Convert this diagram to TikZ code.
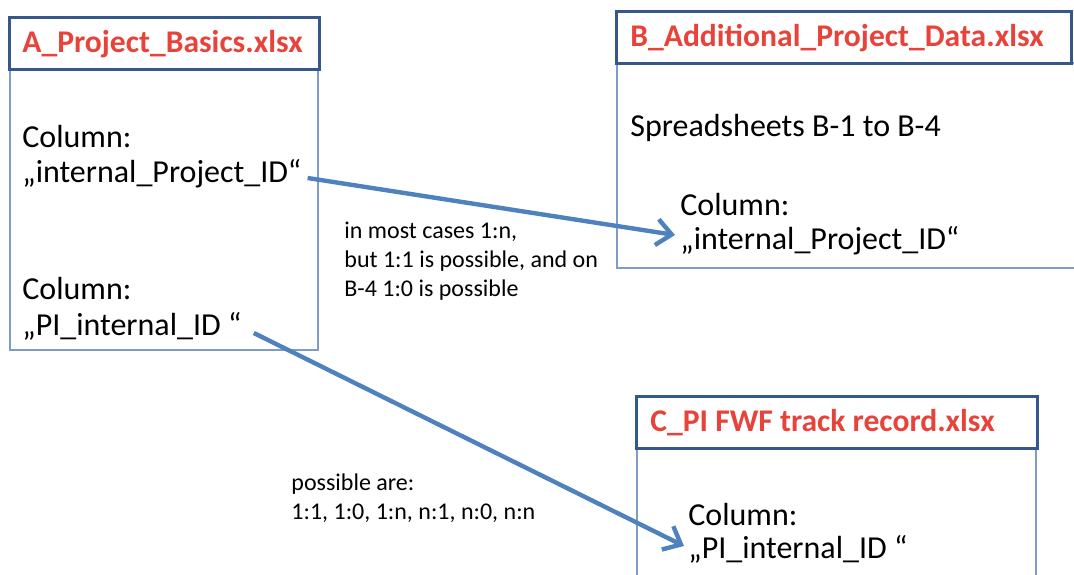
\documentclass[tikz,border=0pt]{standalone}
\usepackage{fontspec}
\setmainfont{Carlito}
\usetikzlibrary{arrows.meta}
\definecolor{titlered}{HTML}{E8433A}
\definecolor{darkframe}{HTML}{35578A}
\definecolor{lightframe}{HTML}{7F9CC4}
\definecolor{arrowblue}{HTML}{4F81BD}
\tikzset{
  titlebox/.style={draw=darkframe, line width=1.5pt},
  bodybox/.style={draw=lightframe, line width=0.8pt},
  titletext/.style={anchor=west, inner sep=0pt, text=titlered, font=\fontsize{15.8}{19}\selectfont\bfseries},
  maintext/.style={anchor=west, inner sep=0pt, align=left, font=\fontsize{16}{18.5}\selectfont},
  notetext/.style={anchor=north west, inner sep=0pt, align=left, font=\fontsize{12}{14.5}\selectfont},
  link/.style={draw=arrowblue, line width=2.2pt, -{Straight Barb[length=7.5pt, width=13pt, line width=2.2pt]}}
}
\begin{document}
\begin{tikzpicture}[x=0.5pt, y=-0.5pt]
\useasboundingbox (0,0) rectangle (1074,574);
\clip (0,0) rectangle (1074,574);
% Box A
\draw[bodybox] (10,69) rectangle (318,350);
\draw[titlebox] (9,17) rectangle (319,69);
\node[titletext] (atitle) at (22,44) {A\_Project\_Basics.xlsx};
\node[maintext] (acol1) at (22,137) {Column:};
\node[maintext] (aid) at (22,174) {„internal\_Project\_ID“};
\node[maintext] (acol2) at (22,289) {Column:};
\node[maintext] (api) at (22,326) {„PI\_internal\_ID “};
% Box B
\draw[bodybox] (617,63) rectangle (1090,268);
\draw[titlebox] (616,11) rectangle (1071,63);
\node[titletext] (btitle) at (630,38) {B\_Additional\_Project\_Data.xlsx};
\node[maintext] (bspread) at (630,128) {Spreadsheets B-1 to B-4};
\node[maintext] (bcol) at (680,205) {Column:};
\node[maintext] (bid) at (680,241) {„internal\_Project\_ID“};
% Box C
\draw[bodybox] (637,448) rectangle (1036,600);
\draw[titlebox] (636,396) rectangle (1037,448);
\node[titletext] (ctitle) at (650,423) {C\_PI FWF track record.xlsx};
\node[maintext] (ccol) at (688,515) {Column:};
\node[maintext] (cpi) at (688,549) {„PI\_internal\_ID “};
% Notes
\node[notetext] (note1) at (344,222) {in most cases 1:n,\\but 1:1 is possible, and on\\B-4 1:0 is possible};
\node[notetext] (note2) at (291,473) {possible are:\\1:1, 1:0, 1:n, n:1, n:0, n:n};
% Connectors
\coordinate (s1) at ([xshift=3pt, yshift=-2pt]aid.east);
\coordinate (e1) at ([xshift=-2.5pt, yshift=3pt]bid.west);
\draw[link] (s1) -- (e1);
\coordinate (s2) at ([xshift=6pt, yshift=-3.5pt]api.east);
\coordinate (e2) at ([xshift=-2pt, yshift=1.5pt]cpi.west);
\draw[link] (s2) -- (e2);
\end{tikzpicture}
\end{document}
